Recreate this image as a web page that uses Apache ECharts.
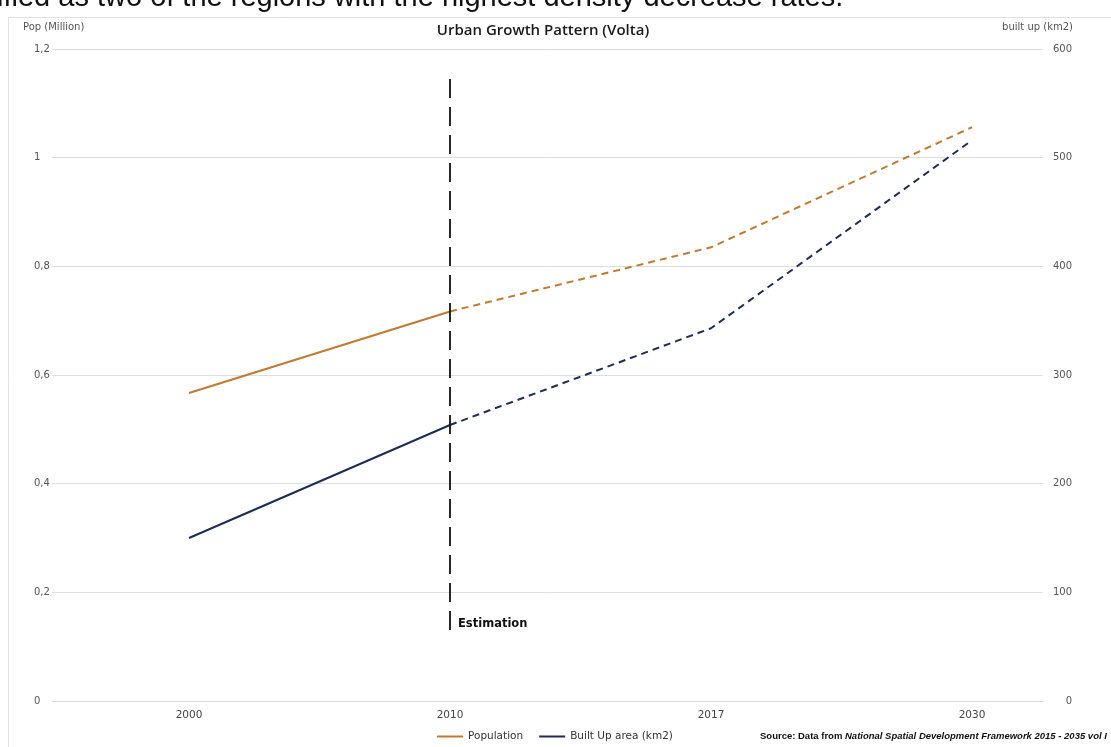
<!DOCTYPE html>
<html>
<head>
<meta charset="utf-8">
<script src="https://cdn.jsdelivr.net/npm/echarts@6/dist/echarts.min.js"></script>
<style>
html,body{margin:0;padding:0;background:#fff;}
#chart{width:1111px;height:747px;}
</style>
</head>
<body>
<div id="chart"></div>
<script>
// ---- data ----
var years = ['2000', '2010', '2017', '2030'];
var population = [0.567, 0.717, 0.835, 1.056];     // million (left axis)
var builtUp = [150, 254, 343, 516];                 // km2 (right axis)
var estimationYearIndex = 1;                        // 2010
var leftTicks = [0, 0.2, 0.4, 0.6, 0.8, 1.0, 1.2];
var rightTicks = [0, 100, 200, 300, 400, 500, 600];

function solidPart(arr) { return arr.map(function (v, i) { return i <= estimationYearIndex ? [i, v] : [i, null]; }); }
function dashedPart(arr) { return arr.map(function (v, i) { return i >= estimationYearIndex ? [i, v] : [i, null]; }); }

var orange = '#c27a30';
var navy = '#1e2d57';
var axisFont = 'DejaVu Sans';

var chart = echarts.init(document.getElementById('chart'), null, { renderer: 'canvas' });
chart.setOption({
  animation: false,
  backgroundColor: '#fff',
  title: {
    text: 'Urban Growth Pattern (Volta)',
    left: 538, top: 18, textAlign: 'center',
    textStyle: { fontFamily: 'Open Sans', fontSize: 15, fontWeight: 600, color: '#1a1a1a' }
  },
  graphic: [
    { type: 'rect', shape: { x: 8.5, y: 17.5, width: 1200, height: 800 }, style: { fill: 'none', stroke: '#e2e2e2', lineWidth: 1 }, z: -1 },
    { type: 'text', style: { x: -3, y: 12, verticalAlign: 'bottom', text: 'ified as two of the regions with the highest density decrease rates.', font: '29px "Liberation Sans"', fill: '#111' } },
    { type: 'text', style: { x: 23, y: 27, verticalAlign: 'middle', text: 'Pop (Million)', font: '10px "DejaVu Sans"', fill: '#555' } },
    { type: 'text', style: { x: 1073, y: 27, align: 'right', verticalAlign: 'middle', text: 'built up (km2)', font: '10px "DejaVu Sans"', fill: '#555' } },
    { type: 'text', left: 760, top: 731, style: {
        text: '{a|Source: Data from }{b|National Spatial Development Framework 2015 - 2035 vol I}',
        rich: {
          a: { fontFamily: 'Liberation Sans', fontSize: 9.5, fontWeight: 'bold', fill: '#111' },
          b: { fontFamily: 'Liberation Sans', fontSize: 9.5, fontWeight: 'bold', fontStyle: 'italic', fill: '#111' }
        } } }
  ],
  legend: {
    left: 432, top: 726,
    itemWidth: 26, itemHeight: 2, itemGap: 16,
    icon: 'rect',
    data: ['Population', 'Built Up area (km2)'],
    textStyle: { fontFamily: axisFont, fontSize: 10.5, color: '#333' }
  },
  grid: { left: 52, right: 68, top: 49, bottom: 46 },
  xAxis: {
    type: 'value', min: -0.525, max: 3.272,
    axisLine: { show: true, lineStyle: { color: '#dcdcdc' } },
    axisTick: { show: false },
    splitLine: { show: false },
    axisLabel: {
      customValues: [0, 1, 2, 3],
      formatter: function (v) { return years[Math.round(v)]; },
      margin: 9,
      fontFamily: axisFont, fontSize: 10.5, color: '#444'
    }
  },
  yAxis: [
    {
      type: 'value', min: 0, max: 1.2, interval: 0.2,
      axisLine: { show: false }, axisTick: { show: false },
      splitLine: { show: true, lineStyle: { color: '#dedede', width: 1 } },
      axisLabel: {
        align: 'left', margin: 18,
        fontFamily: axisFont, fontSize: 10, color: '#555',
        formatter: function (v) { return String(+v.toFixed(1)).replace('.', ','); }
      }
    },
    {
      type: 'value', min: 0, max: 600, interval: 100,
      axisLine: { show: false }, axisTick: { show: false },
      splitLine: { show: false },
      axisLabel: { align: 'right', margin: 29, fontFamily: axisFont, fontSize: 10, color: '#555' }
    }
  ],
  series: [
    {
      name: 'Population', type: 'line', yAxisIndex: 0,
      data: solidPart(population), showSymbol: false, symbol: 'none',
      lineStyle: { color: orange, width: 2 }, itemStyle: { color: orange },
      markLine: {
        silent: true, symbol: 'none', animation: false,
        label: { show: false },
        lineStyle: { color: '#111', width: 1.8, type: [19, 9] },
        data: [[{ coord: [estimationYearIndex, 1.145] }, { coord: [estimationYearIndex, 0.127] }]]
      },
      markPoint: {
        silent: true, symbol: 'circle', symbolSize: 0,
        data: [{ coord: [estimationYearIndex, 0.142], value: 'Estimation' }],
        label: { show: true, position: 'right', distance: 8, formatter: 'Estimation',
          fontFamily: axisFont, fontSize: 11.5, fontWeight: 'bold', color: '#111' }
      }
    },
    {
      name: 'Population', type: 'line', yAxisIndex: 0,
      data: dashedPart(population), showSymbol: false, symbol: 'none',
      lineStyle: { color: orange, width: 2, type: [7, 5] }, itemStyle: { color: orange }
    },
    {
      name: 'Built Up area (km2)', type: 'line', yAxisIndex: 1,
      data: solidPart(builtUp), showSymbol: false, symbol: 'none',
      lineStyle: { color: navy, width: 2 }, itemStyle: { color: navy }
    },
    {
      name: 'Built Up area (km2)', type: 'line', yAxisIndex: 1,
      data: dashedPart(builtUp), showSymbol: false, symbol: 'none',
      lineStyle: { color: navy, width: 2, type: [7, 5] }, itemStyle: { color: navy }
    }
  ]
});
</script>
</body>
</html>
